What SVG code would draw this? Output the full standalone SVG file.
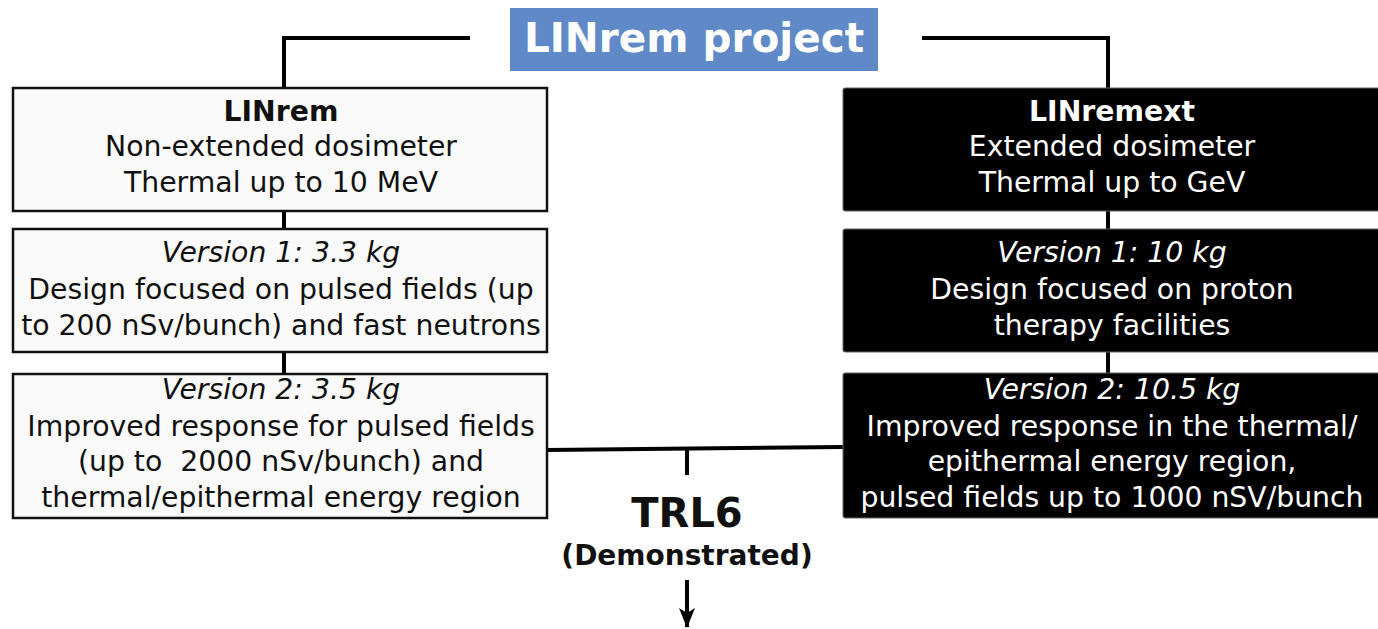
<svg xmlns="http://www.w3.org/2000/svg" width="1378" height="629" viewBox="0 0 1378 629">
<defs>
<style>
.t{font-family:"DejaVu Sans","Liberation Sans",sans-serif;font-size:28.3px;text-anchor:middle;white-space:pre}
.b{font-weight:bold}
.i{font-style:italic}
.w{fill:#ffffff}
.k{fill:#111111}
.lbox{fill:#fafafa;stroke:#111;stroke-width:2.5}
.dbox{fill:#000;stroke:#666;stroke-width:1}
.c{stroke:#000;stroke-width:4;fill:none}
</style>
<marker id="ah" markerWidth="20" markerHeight="16" refX="19" refY="8" orient="auto" markerUnits="userSpaceOnUse" viewBox="0 0 20 16">
<path d="M0,0 L20,8 L0,16 L5,8 Z" fill="#000"/>
</marker>
</defs>
<g id="connectors">
<polyline class="c" points="470,38 284,38 284,88"/>
<polyline class="c" points="922,38 1108,38 1108,88"/>
<line class="c" x1="284" y1="211" x2="284" y2="229"/>
<line class="c" x1="284" y1="352" x2="284" y2="373"/>
<line class="c" x1="1108" y1="211" x2="1108" y2="229"/>
<line class="c" x1="1108" y1="352" x2="1108" y2="373"/>
<line class="c" x1="547" y1="450" x2="843" y2="447"/>
<line class="c" x1="687" y1="449" x2="687" y2="475"/>
<line class="c" x1="687" y1="580" x2="687" y2="627" marker-end="url(#ah)"/>
</g>
<g id="title">
<rect x="510" y="8" width="368" height="63" fill="#5f8ac7"/>
<text class="t b w" x="694" y="52" style="font-size:40.5px">LINrem project</text>
</g>
<g id="linrem">
<rect class="lbox" x="13" y="88" width="534" height="123"/>
<text class="t b k" x="281" y="121">LINrem</text>
<text class="t k" x="281" y="156">Non-extended dosimeter</text>
<text class="t k" x="281" y="192">Thermal up to 10 MeV</text>
</g>
<g id="linrem-v1">
<rect class="lbox" x="13" y="229" width="534" height="123"/>
<text class="t i k" x="281" y="262">Version 1: 3.3 kg</text>
<text class="t k" x="281" y="299">Design focused on pulsed fields (up</text>
<text class="t k" x="281" y="335">to 200 nSv/bunch) and fast neutrons</text>
</g>
<g id="linrem-v2">
<rect class="lbox" x="13" y="374" width="534" height="144"/>
<text class="t i k" x="281" y="399">Version 2: 3.5 kg</text>
<text class="t k" x="281" y="436">Improved response for pulsed fields</text>
<text class="t k" x="281" y="471" xml:space="preserve">(up to  2000 nSv/bunch) and</text>
<text class="t k" x="281" y="507">thermal/epithermal energy region</text>
</g>
<g id="linremext">
<rect class="dbox" x="843" y="88" width="540" height="123" rx="2"/>
<text class="t b w" x="1112" y="121">LINremext</text>
<text class="t w" x="1112" y="156">Extended dosimeter</text>
<text class="t w" x="1112" y="192">Thermal up to GeV</text>
</g>
<g id="linremext-v1">
<rect class="dbox" x="843" y="229" width="540" height="123" rx="2"/>
<text class="t i w" x="1112" y="262">Version 1: 10 kg</text>
<text class="t w" x="1112" y="299">Design focused on proton</text>
<text class="t w" x="1112" y="335">therapy facilities</text>
</g>
<g id="linremext-v2">
<rect class="dbox" x="843" y="373" width="540" height="145" rx="2"/>
<text class="t i w" x="1112" y="399">Version 2: 10.5 kg</text>
<text class="t w" x="1112" y="436">Improved response in the thermal/</text>
<text class="t w" x="1112" y="471">epithermal energy region,</text>
<text class="t w" x="1112" y="507">pulsed fields up to 1000 nSV/bunch</text>
</g>
<g id="trl6">
<text class="t b k" x="687" y="527" style="font-size:40px">TRL6</text>
<text class="t b k" x="687" y="565" style="font-size:28px">(Demonstrated)</text>
</g>
</svg>
